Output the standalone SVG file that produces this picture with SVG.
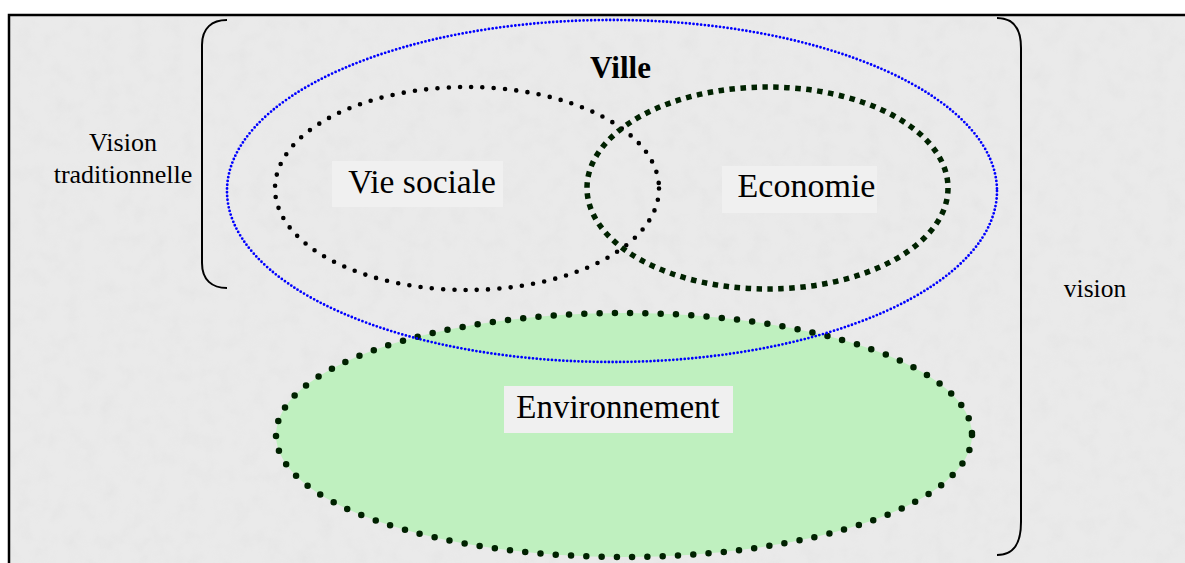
<svg xmlns="http://www.w3.org/2000/svg" width="1185" height="563" viewBox="0 0 1185 563">
  <defs>
    <filter id="tex" x="0" y="0" width="100%" height="100%">
      <feTurbulence type="fractalNoise" baseFrequency="0.06" numOctaves="3" seed="4" result="n"/>
      <feColorMatrix in="n" type="matrix" values="0 0 0 0 0.75  0 0 0 0 0.75  0 0 0 0 0.75  0 0 0 -1.5 0.9"/>
    </filter>
  </defs>
  <style>
    .lbl { font-family: "Times New Roman", "Liberation Serif", "DejaVu Serif", serif; fill: #000; }
    .box { fill: #f0f0f0; }
    .brace { fill: none; stroke: #000; stroke-width: 2; }
  </style>
  <rect x="0" y="0" width="1185" height="563" fill="#ffffff"/>
  <rect x="9" y="15" width="1176" height="548" fill="#eaeaea"/>
  <rect x="9" y="15" width="1176" height="548" filter="url(#tex)" opacity="0.5"/>
  <path d="M9 563 V15 H1185" fill="none" stroke="#000" stroke-width="2.5"/>

  <g id="environnement">
    <ellipse cx="624" cy="435" rx="348" ry="122" fill="#bff0bf" stroke="#002200" stroke-width="6.5" stroke-linecap="round" stroke-dasharray="0 15.3"/>
    <rect class="box" x="504" y="386" width="229" height="47"/>
    <text class="lbl" x="618" y="418" font-size="33" text-anchor="middle">Environnement</text>
  </g>

  <g id="vie-sociale">
    <ellipse cx="467" cy="188.5" rx="192" ry="101.5" fill="none" stroke="#000" stroke-width="4.6" stroke-linecap="round" stroke-dasharray="0 11.3"/>
    <rect class="box" x="332" y="161" width="171" height="46"/>
    <text class="lbl" x="422" y="193" font-size="33.5" text-anchor="middle">Vie sociale</text>
  </g>

  <g id="economie">
    <ellipse cx="767.5" cy="188" rx="180.5" ry="101" fill="none" stroke="#002200" stroke-width="5.5" stroke-dasharray="5.5 5.5"/>
    <rect class="box" x="722" y="166" width="155" height="47"/>
    <text class="lbl" x="806.5" y="197" font-size="34" text-anchor="middle">Economie</text>
  </g>

  <g id="ville">
    <ellipse cx="612" cy="191" rx="385" ry="171" fill="none" stroke="#0000ff" stroke-width="2.8" stroke-linecap="round" stroke-dasharray="0 3.8"/>
    <text class="lbl" x="620.5" y="78" font-size="31" font-weight="bold" text-anchor="middle">Ville</text>
  </g>

  <g id="vision-traditionnelle">
    <path class="brace" d="M227 20 C212 20 202 28 202 45 V263 C202 280 212 288 227 288"/>
    <text class="lbl" x="123" y="151" font-size="26" text-anchor="middle">Vision</text>
    <text class="lbl" x="123" y="183" font-size="26" text-anchor="middle">traditionnelle</text>
  </g>

  <g id="vision">
    <path class="brace" d="M997 18 C1013 18 1021 28 1021 48 V522 C1021 545 1013 555 997 555"/>
    <text class="lbl" x="1095" y="297" font-size="25.5" text-anchor="middle">vision</text>
  </g>

  <g id="connectors"></g>
</svg>
